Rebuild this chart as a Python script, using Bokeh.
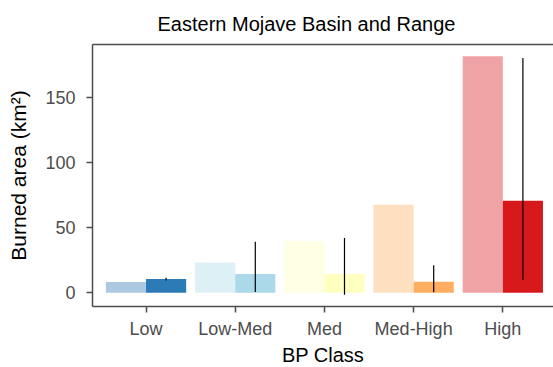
from bokeh.plotting import figure
from bokeh.models import Range1d, FixedTicker, LinearAxis, ColumnDataSource
from bokeh.embed import file_html
from bokeh.resources import INLINE

# ---- data ----
categories = ["Low", "Low-Med", "Med", "Med-High", "High"]
observed = [8.2, 23.3, 39.8, 67.6, 181.3]      # lighter (left) bars
predicted = [10.5, 14.4, 14.4, 8.5, 70.6]      # darker (right) bars
pred_low = [9.5, 0.6, -1.4, 0.4, 10.1]
pred_high = [11.6, 39.1, 42.1, 21.2, 180.0]
colors = ["#2c7bb6", "#abd9e9", "#ffffbf", "#fdae61", "#d7191c"]

FONT = "Liberation Sans"
BAR_W = 0.45

pos = list(range(1, len(categories) + 1))
src = ColumnDataSource(dict(
    x_left=[p - BAR_W / 2 for p in pos],
    x_right=[p + BAR_W / 2 for p in pos],
    obs=observed, pred=predicted, lo=pred_low, hi=pred_high, color=colors,
))

p = figure(
    frame_width=461, frame_height=262,
    x_range=Range1d(0.4, 5.568), y_range=Range1d(-10.5, 190.4),
    output_backend="svg", toolbar_location=None,
    min_border_left=92, min_border_right=0, min_border_top=43, min_border_bottom=62,
    title="Eastern Mojave Basin and Range",
)
p.background_fill_color = "white"
p.border_fill_color = "white"
p.outline_line_color = None
p.xgrid.grid_line_color = None
p.ygrid.grid_line_color = None

p.vbar(x="x_left", top="obs", bottom=0, width=BAR_W, fill_color="color",
       fill_alpha=0.4, line_color=None, source=src)
p.vbar(x="x_right", top="pred", bottom=0, width=BAR_W, fill_color="color",
       fill_alpha=1.0, line_color=None, source=src)
p.segment(x0="x_right", x1="x_right", y0="lo", y1="hi", line_color="black",
          line_width=1.2, source=src)

AX_COLOR = "#4d4d4d"
for ax in (p.xaxis[0], p.yaxis[0]):
    ax.axis_line_color = AX_COLOR
    ax.axis_line_width = 1.5
    ax.major_tick_line_color = AX_COLOR
    ax.major_tick_line_width = 1.5
    ax.major_tick_in = 0
    ax.major_tick_out = 6
    ax.minor_tick_line_color = None
    ax.major_label_text_font = FONT
    ax.major_label_text_font_size = "18px"
    ax.major_label_text_color = "#4d4d4d"
    ax.axis_label_text_font = FONT
    ax.axis_label_text_font_style = "normal"
    ax.axis_label_text_color = "black"

p.xaxis.ticker = FixedTicker(ticks=pos)
p.xaxis.major_label_overrides = {i: c for i, c in zip(pos, categories)}
p.xaxis.axis_label = "BP Class"
p.xaxis.axis_label_text_font_size = "20px"
p.xaxis.major_label_standoff = 6
p.xaxis.axis_label_standoff = 2

p.yaxis.ticker = FixedTicker(ticks=[0, 50, 100, 150])
p.yaxis.axis_label = "Burned area (km²)"
p.yaxis.axis_label_text_font_size = "21px"
p.yaxis.major_label_standoff = 11
p.yaxis.axis_label_standoff = 12

top = LinearAxis(ticker=FixedTicker(ticks=[]), major_label_text_font_size="0px",
                 axis_line_color=AX_COLOR, axis_line_width=1.5,
                 major_tick_line_color=None, minor_tick_line_color=None)
p.add_layout(top, "above")

p.title.text_font = FONT
p.title.text_font_size = "20px"
p.title.text_font_style = "normal"
p.title.text_color = "black"
p.title.align = "left"
p.title.offset = 65
p.title.standoff = 20

open("out.html", "w").write(file_html(p, INLINE))
